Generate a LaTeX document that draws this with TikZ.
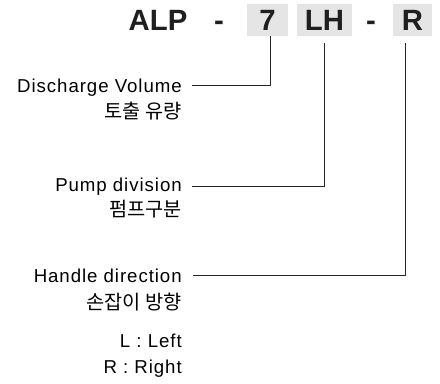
\documentclass[tikz,border=0pt]{standalone}
\usepackage{fontspec}
\setmainfont{Liberation Sans}
\newfontfamily\kofont{Noto Sans CJK KR}
\newfontfamily\lblfont[LetterSpace=5]{Liberation Sans}
\usetikzlibrary{positioning}

\begin{document}
\begin{tikzpicture}[x=0.75pt,y=-0.75pt,
  code/.style={inner sep=0pt,text=black!88,font=\fontsize{22}{22}\selectfont\bfseries},
  codebox/.style={code,fill=black!10,minimum height=24pt},
  lbl/.style={anchor=base east,inner sep=0pt,font=\lblfont\fontsize{14}{14}\selectfont},
  kor/.style={anchor=base east,inner sep=0pt,font=\kofont\fontsize{14.8}{14.8}\selectfont},
  ln/.style={line width=0.8pt,black!85}]
\useasboundingbox (0,0) rectangle (440,383);

% model code
\node[code,anchor=base] (alp) at (158,30) {ALP};
\node[code,anchor=base] (dash1) at (219,30) {-};
\node[codebox,minimum width=30.75pt] (b7) at (267.5,20) {7};
\node[codebox,minimum width=41.25pt] (blh) at (324.5,20) {LH};
\node[code,anchor=base] (dash2) at (371,30) {-};
\node[codebox,minimum width=29.25pt] (br) at (412.5,20) {R};

% labels
\node[lbl] (dv) at (182,92) {Discharge Volume};
\node[kor] (dvk) at (182,118) {토출 유량};
\node[lbl] (pd) at (182,191) {Pump division};
\node[kor] (pdk) at (182,216) {펌프구분};
\node[lbl] (hd) at (182,282) {Handle direction};
\node[kor] (hdk) at (182,309) {손잡이 방향};
\node[lbl] (hl) at (182,347) {L : Left};
\node[lbl] (hr) at (182,373) {R : Right};

% leaders
\draw[ln] ([xshift=1.9pt]b7.south) |- ([xshift=7.5pt,yshift=1.5pt]dv.east);
\draw[ln] ([yshift=-5pt]blh.south) |- ([xshift=7.5pt]pd.east);
\draw[ln] ([xshift=-5.6pt,yshift=-5pt]br.south) |- ([xshift=8pt]hd.east);
\end{tikzpicture}
\end{document}
